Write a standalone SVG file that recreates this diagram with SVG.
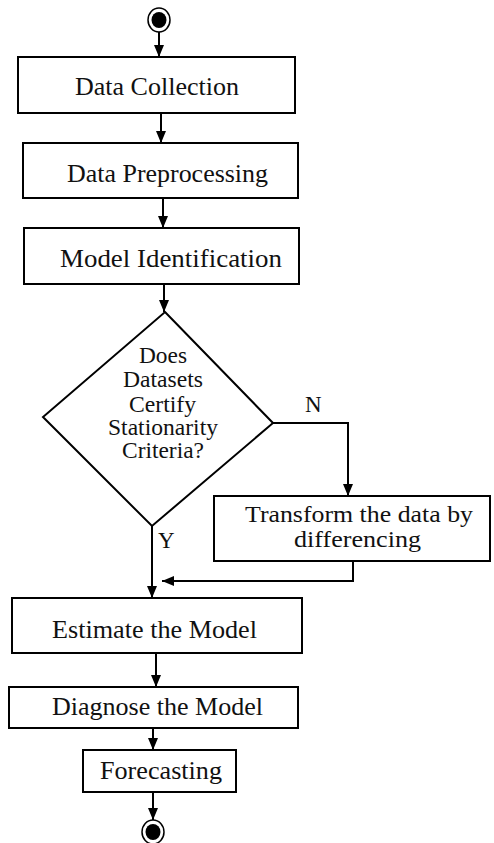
<svg xmlns="http://www.w3.org/2000/svg" width="494" height="843" viewBox="0 0 494 843">
<style>
.box{fill:#fff;stroke:#000;stroke-width:2}
text{font-family:"Liberation Serif","DejaVu Serif",serif;fill:#111;text-anchor:middle}
.t{font-size:25px}
.d{font-size:23px}
.c{fill:none;stroke:#000;stroke-width:2}
</style>
<defs>
<marker id="ah" viewBox="0 0 12 10" refX="12" refY="5" markerWidth="12" markerHeight="10" markerUnits="userSpaceOnUse" orient="auto">
<path d="M0,0 L12,5 L0,10 Z" fill="#000"/>
</marker>
</defs>
<rect width="494" height="843" fill="#fff"/>
<g id="connectors">
<line class="c" x1="159" y1="32" x2="159" y2="57" marker-end="url(#ah)"/>
<line class="c" x1="161" y1="113" x2="161" y2="143" marker-end="url(#ah)"/>
<line class="c" x1="163" y1="198" x2="163" y2="228" marker-end="url(#ah)"/>
<line class="c" x1="164" y1="284" x2="164" y2="312" marker-end="url(#ah)"/>
<polyline class="c" points="273,423 348,423 348,496" marker-end="url(#ah)"/>
<line class="c" x1="152" y1="526" x2="152" y2="598" marker-end="url(#ah)"/>
<polyline class="c" points="353,561 353,581 162,581" marker-end="url(#ah)"/>
<line class="c" x1="156" y1="653" x2="156" y2="687" marker-end="url(#ah)"/>
<line class="c" x1="153" y1="728" x2="153" y2="750" marker-end="url(#ah)"/>
<line class="c" x1="153" y1="792" x2="153" y2="820" marker-end="url(#ah)"/>
<text class="d" x="305" y="412" style="text-anchor:start">N</text>
<text class="d" x="158" y="548" style="text-anchor:start">Y</text>
</g>
<g id="start">
<ellipse cx="159" cy="20" rx="11" ry="12" fill="#fff" stroke="#000" stroke-width="1.5"/>
<ellipse cx="159" cy="20" rx="7.5" ry="8" fill="#000"/>
</g>
<g id="n1">
<rect class="box" x="18" y="57" width="277" height="56"/>
<text class="t" x="157" y="95" textLength="164" lengthAdjust="spacingAndGlyphs">Data Collection</text>
</g>
<g id="n2">
<rect class="box" x="23" y="143" width="275" height="55"/>
<text class="t" x="167.5" y="182" textLength="201" lengthAdjust="spacingAndGlyphs">Data Preprocessing</text>
</g>
<g id="n3">
<rect class="box" x="24" y="228" width="275" height="56"/>
<text class="t" x="171" y="267" textLength="222" lengthAdjust="spacingAndGlyphs">Model Identification</text>
</g>
<g id="decision">
<polygon class="box" points="165,312 273,423 152,526 43,417"/>
<text class="d" x="163" y="363" textLength="48" lengthAdjust="spacingAndGlyphs">Does</text>
<text class="d" x="163" y="387" textLength="80" lengthAdjust="spacingAndGlyphs">Datasets</text>
<text class="d" x="162.5" y="412" textLength="67" lengthAdjust="spacingAndGlyphs">Certify</text>
<text class="d" x="163" y="435" textLength="110" lengthAdjust="spacingAndGlyphs">Stationarity</text>
<text class="d" x="163" y="458" textLength="82" lengthAdjust="spacingAndGlyphs">Criteria?</text>
</g>
<g id="transform">
<rect class="box" x="214" y="496" width="276" height="65"/>
<text class="d" x="359" y="522" textLength="228" lengthAdjust="spacingAndGlyphs">Transform the data by</text>
<text class="d" x="357.5" y="547" textLength="127" lengthAdjust="spacingAndGlyphs">differencing</text>
</g>
<g id="estimate">
<rect class="box" x="12" y="598" width="290" height="55"/>
<text class="t" x="154.5" y="638" textLength="205" lengthAdjust="spacingAndGlyphs">Estimate the Model</text>
</g>
<g id="diagnose">
<rect class="box" x="9" y="687" width="289" height="41"/>
<text class="t" x="157.5" y="715" textLength="211" lengthAdjust="spacingAndGlyphs">Diagnose the Model</text>
</g>
<g id="forecast">
<rect class="box" x="83" y="750" width="153" height="42"/>
<text class="t" x="161" y="779" textLength="122" lengthAdjust="spacingAndGlyphs">Forecasting</text>
</g>
<g id="end">
<ellipse cx="153" cy="832" rx="11" ry="12" fill="#fff" stroke="#000" stroke-width="1.5"/>
<ellipse cx="153" cy="832" rx="7.5" ry="8" fill="#000"/>
</g>
</svg>
